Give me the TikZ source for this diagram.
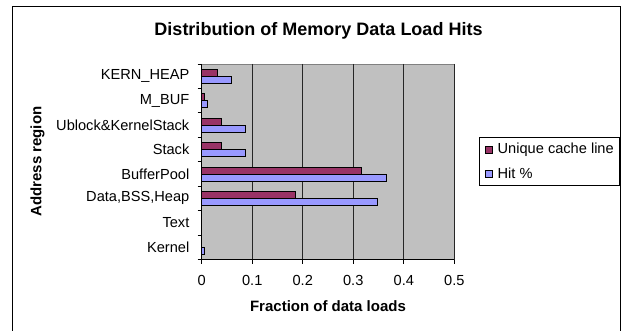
\documentclass[tikz,border=0pt]{standalone}
\usepackage{fontspec}
\setmainfont{Liberation Sans}
\usetikzlibrary{positioning}
\definecolor{uniqcol}{HTML}{993366}
\definecolor{hitcol}{HTML}{9999FF}
\definecolor{plotbg}{HTML}{C0C0C0}

\begin{document}
\begin{tikzpicture}[x=1pt, y=-1pt,
        lbl/.style={font=\fontsize{14.6}{14.6}\selectfont, inner sep=0pt},
        boldlbl/.style={font=\fontsize{15}{15}\selectfont\bfseries, inner sep=0pt},
        bar/.style={draw=black, line width=0.6pt},
        gridline/.style={draw=black!85, line width=0.8pt},
        legmark/.style={draw=black, line width=0.6pt, minimum size=7pt, inner sep=0pt}]
        \useasboundingbox (0,0) rectangle (621,331);
        \fill[white] (0,0) rectangle (621,331);
        \draw[line width=0.8pt] (12.7,331) -- (12.7,6.7) -- (620.3,6.7) -- (620.3,331);

        % title
        \node[font=\fontsize{18}{18}\selectfont\bfseries, inner sep=0pt] (title) at (318.5,30.5) {Distribution of Memory Data Load Hits};

        % plot area and grid
        \filldraw[fill=plotbg, draw=gray, line width=0.6pt] (201.7,64) rectangle (454.3,259.5);
        \foreach \t in {1,...,5}
            \draw[gridline] (201.7+50.52*\t,64) -- (201.7+50.52*\t,259.5);

        % bars
        \foreach \u/\h [count=\i from 0] in {0.030/0.058, 0.005/0.011, 0.039/0.086, 0.039/0.086,
                                           0.315/0.366, 0.186/0.348, 0/0, 0/0.005} {
            \draw[bar, fill=uniqcol] (201.7,69.2+24.44*\i) rectangle (201.7+505.2*\u,76.2+24.44*\i);
            \draw[bar, fill=hitcol] (201.7,76.2+24.44*\i) rectangle (201.7+505.2*\h,83.2+24.44*\i);
        }

        % axes and ticks
        \draw[line width=0.8pt] (201.7,64) -- (201.7,259.5) -- (454.3,259.5);
        \foreach \i in {0,...,8}
            \draw[line width=0.8pt] (197.5,64+24.44*\i) -- (201.7,64+24.44*\i);
        \foreach \t/\v in {0/0, 1/0.1, 2/0.2, 3/0.3, 4/0.4, 5/0.5} {
            \draw[line width=0.8pt] (201.7+50.52*\t,259.5) -- (201.7+50.52*\t,263.5);
            \node[lbl] (x\t) at (201.7+50.52*\t,280) {\v};
        }

        % category labels
        \foreach \name [count=\i from 0] in {KERN\_HEAP, M\_BUF, Ublock\&KernelStack, Stack,
                                            BufferPool, {Data,BSS,Heap}, Text, Kernel}
            \node[lbl, anchor=east] (c\i) at (189.5,76.2+24.44*\i) {\name};

        % axis titles
        \node[boldlbl] (xtitle) at (328,306.5) {Fraction of data loads};
        \node[boldlbl, rotate=90] (ytitle) at (37.5,161.5) {Address region};

        % legend
        \draw[line width=0.6pt] (479.2,137.5) rectangle (618.8,185);
        \node[legmark, fill=uniqcol] (mU) at (488.5,149.5) {};
        \node[lbl, anchor=west] (tU) at (497.5,149.5) {Unique cache line};
        \node[legmark, fill=hitcol] (mH) at (488.5,173.5) {};
        \node[lbl, anchor=west] (tH) at (497.5,173.5) {Hit \%};
\end{tikzpicture}
\end{document}
